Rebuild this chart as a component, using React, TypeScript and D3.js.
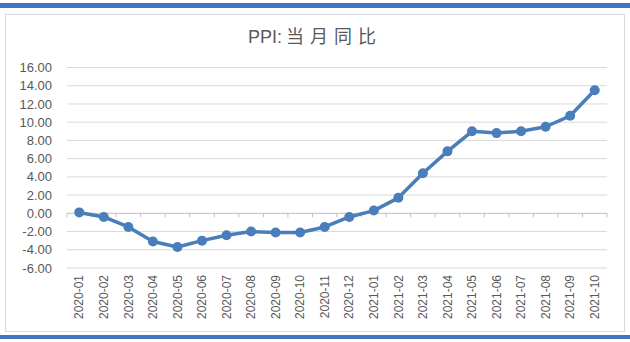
import React from "react";
import * as d3 from "d3";

const categories = [
  "2020-01","2020-02","2020-03","2020-04","2020-05","2020-06","2020-07","2020-08","2020-09","2020-10","2020-11","2020-12",
  "2021-01","2021-02","2021-03","2021-04","2021-05","2021-06","2021-07","2021-08","2021-09","2021-10",
];
const values = [0.1,-0.4,-1.5,-3.1,-3.7,-3.0,-2.4,-2.0,-2.1,-2.1,-1.5,-0.4,0.3,1.7,4.4,6.8,9.0,8.8,9.0,9.5,10.7,13.5];
const yTicks = [-6,-4,-2,0,2,4,6,8,10,12,14,16];
const titleLatin = "PPI:";
const titleCJK = "当月同比";

const W = 630, H = 342;
const left = 67, right = 607, top = 67.5, bottom = 268;
const blue = "#4a7ebb";

export default function App() {
  const x = d3.scaleBand<string>().domain(categories).range([left, right]);
  const y = d3.scaleLinear().domain([-6, 16]).range([bottom, top]);
  const line = d3.line<number>()
    .x((_, i) => (x(categories[i]) as number) + x.bandwidth() / 2)
    .y((d) => y(d));
  const font = "'Liberation Sans', Arial, sans-serif";
  return (
    <svg width={W} height={H} style={{ position: "absolute", left: 0, top: 0, background: "#fff" }}>
      <rect x={0} y={3} width={W} height={5} fill="#4472c4" />
      <rect x={0} y={335} width={W} height={4} fill="#4472c4" />
      <rect x={5.5} y={14.5} width={619} height={317} fill="#fff" stroke="#d9d9d9" />
      <text x={248} y={43} fontSize={18} fill="#595959" fontFamily={font}>
        {titleLatin}
        <tspan fontFamily="'Noto Sans CJK SC', sans-serif" letterSpacing={6} dx={4}>{titleCJK}</tspan>
      </text>
      {yTicks.map((t) => (
        <g key={t}>
          <line x1={left} x2={right} y1={y(t)} y2={y(t)} stroke={t === 0 ? "#bfbfbf" : "#d9d9d9"} strokeWidth={1} />
          <text x={52} y={y(t)} dy="0.35em" textAnchor="end" fontSize={13} fill="#595959" fontFamily={font}>
            {t.toFixed(2)}
          </text>
        </g>
      ))}
      {categories.map((c) => (
        <line key={"t" + c} x1={x(c) as number} x2={x(c) as number} y1={y(0)} y2={y(0) + 4} stroke="#bfbfbf" />
      ))}
      <line x1={right} x2={right} y1={y(0)} y2={y(0) + 4} stroke="#bfbfbf" />
      {categories.map((c) => {
        const cx = (x(c) as number) + x.bandwidth() / 2;
        return (
          <text key={"l" + c} transform={`translate(${cx},275) rotate(-90)`} textAnchor="end" dy="0.35em"
            fontSize={12} fill="#595959" fontFamily={font}>{c}</text>
        );
      })}
      <path d={line(values) || ""} fill="none" stroke={blue} strokeWidth={3.5} strokeLinejoin="round" />
      {values.map((v, i) => (
        <circle key={"p" + i} cx={(x(categories[i]) as number) + x.bandwidth() / 2} cy={y(v)} r={5} fill={blue} />
      ))}
    </svg>
  );
}
